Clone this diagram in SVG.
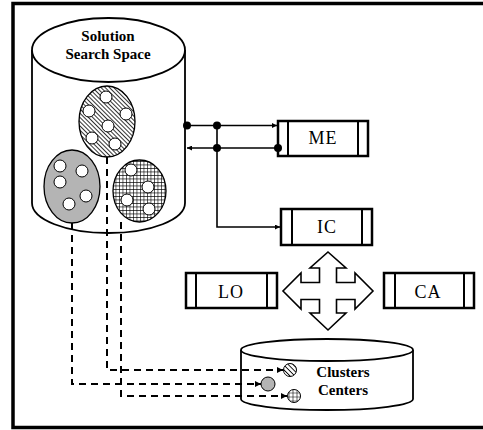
<svg xmlns="http://www.w3.org/2000/svg" width="483" height="430" viewBox="0 0 483 430">
<defs>
<style>
.frame{fill:none;stroke:#000;stroke-width:3.5}
.cyl{fill:#fff;stroke:#000;stroke-width:1.8}
.lbl{font-family:'Liberation Serif','DejaVu Serif',serif;font-weight:bold;font-size:15px;text-anchor:middle;fill:#000}
.blbl{font-family:'Liberation Serif','DejaVu Serif',serif;font-size:18px;text-anchor:middle;fill:#000;letter-spacing:1px}
.box{fill:#fff;stroke:#000;stroke-width:2.5}
.inner{stroke:#000;stroke-width:2}
.hole{fill:#fff;stroke:#000;stroke-width:1}
.conn{fill:none;stroke:#000;stroke-width:1.6}
.dash{fill:none;stroke:#000;stroke-width:2;stroke-dasharray:7,5}
.dot{fill:#000}
</style>
<pattern id="hatch" patternUnits="userSpaceOnUse" width="3" height="3" patternTransform="rotate(-45)">
<rect width="3" height="3" fill="#fff"/>
<line x1="0" y1="0" x2="0" y2="3" stroke="#000" stroke-width="1.6"/>
</pattern>
<pattern id="hatch2" patternUnits="userSpaceOnUse" width="3.4" height="3.4" patternTransform="rotate(-45)">
<rect width="3.4" height="3.4" fill="#fff"/>
<line x1="0" y1="0" x2="0" y2="3.4" stroke="#000" stroke-width="1.8"/>
</pattern>
<pattern id="grid" patternUnits="userSpaceOnUse" width="3.5" height="3.5">
<rect width="3.5" height="3.5" fill="#fff"/>
<path d="M0 0H3.5M0 0V3.5" stroke="#000" stroke-width="1.2"/>
</pattern>
<pattern id="grid2" patternUnits="userSpaceOnUse" width="4" height="4" x="0.5" y="0.5">
<rect width="4" height="4" fill="#fff"/>
<path d="M0 0H4M0 0V4" stroke="#000" stroke-width="1.2"/>
</pattern>
<marker id="arr" viewBox="0 0 10 10" refX="10" refY="5" markerWidth="5" markerHeight="5" markerUnits="userSpaceOnUse" orient="auto">
<path d="M0 0L10 5L0 10z" fill="#000"/>
</marker>
<marker id="arr2" viewBox="0 0 10 10" refX="10" refY="5" markerWidth="6" markerHeight="6" markerUnits="userSpaceOnUse" orient="auto">
<path d="M0 0L10 5L0 10z" fill="#000"/>
</marker>
</defs>
<rect width="483" height="430" fill="#fff"/>
<rect class="frame" x="13" y="3.5" width="490" height="424"/>

<g id="solution-space">
<path class="cyl" d="M32 50 V203 A76.5 30 0 0 0 185 203 V50"/>
<ellipse class="cyl" cx="108.5" cy="50" rx="76.5" ry="32"/>
<text class="lbl" x="108" y="41" font-family="Liberation Serif, DejaVu Serif, serif">Solution</text>
<text class="lbl" x="108" y="59" font-family="Liberation Serif, DejaVu Serif, serif">Search Space</text>
<g id="cluster-hatched">
<ellipse cx="107" cy="121.5" rx="28" ry="35.5" fill="url(#hatch)" stroke="#000" stroke-width="1.3"/>
<circle class="hole" cx="106" cy="97" r="6"/>
<circle class="hole" cx="89" cy="111" r="6"/>
<circle class="hole" cx="126" cy="114" r="6"/>
<circle class="hole" cx="108" cy="126" r="6"/>
<circle class="hole" cx="92" cy="138" r="6"/>
<circle class="hole" cx="115" cy="144" r="6"/>
</g>
<g id="cluster-gray">
<ellipse cx="72" cy="186.5" rx="28" ry="36.5" fill="#b4b4b4" stroke="#000" stroke-width="1.3"/>
<circle class="hole" cx="60" cy="166" r="6"/>
<circle class="hole" cx="82" cy="171" r="6"/>
<circle class="hole" cx="60" cy="182" r="6"/>
<circle class="hole" cx="86" cy="196" r="6"/>
<circle class="hole" cx="69" cy="204" r="6"/>
</g>
<g id="cluster-grid">
<ellipse cx="139.5" cy="191" rx="26.5" ry="31" fill="url(#grid)" stroke="#000" stroke-width="1.3"/>
<circle class="hole" cx="131" cy="170" r="6"/>
<circle class="hole" cx="148" cy="187" r="6"/>
<circle class="hole" cx="127" cy="200" r="6"/>
<circle class="hole" cx="149" cy="209" r="6"/>
</g>
</g>

<g id="clusters-centers">
<path class="cyl" d="M241 350 V399 A86 11 0 0 0 413 399 V350"/>
<ellipse class="cyl" cx="327" cy="350" rx="86" ry="11"/>
<text class="lbl" x="343" y="377" font-family="Liberation Serif, DejaVu Serif, serif">Clusters</text>
<text class="lbl" x="343" y="395" font-family="Liberation Serif, DejaVu Serif, serif">Centers</text>
<circle cx="290" cy="370" r="6.5" fill="url(#hatch2)" stroke="#000" stroke-width="1"/>
<circle cx="268" cy="384" r="7" fill="#b4b4b4" stroke="#000" stroke-width="1"/>
<circle cx="294" cy="396" r="6.5" fill="url(#grid2)" stroke="#000" stroke-width="1"/>
</g>

<g id="ME">
<rect class="box" x="278" y="121" width="90" height="35"/>
<line class="inner" x1="288" y1="121" x2="288" y2="156"/>
<line class="inner" x1="358" y1="121" x2="358" y2="156"/>
<text class="blbl" x="323" y="144" font-family="Liberation Serif, DejaVu Serif, serif">ME</text>
</g>
<g id="IC">
<rect class="box" x="281" y="209" width="91" height="36"/>
<line class="inner" x1="292" y1="209" x2="292" y2="245"/>
<line class="inner" x1="362" y1="209" x2="362" y2="245"/>
<text class="blbl" x="327" y="233" font-family="Liberation Serif, DejaVu Serif, serif">IC</text>
</g>
<g id="LO">
<rect class="box" x="186" y="273" width="91" height="35"/>
<line class="inner" x1="196" y1="273" x2="196" y2="308"/>
<line class="inner" x1="267" y1="273" x2="267" y2="308"/>
<text class="blbl" x="231" y="298" font-family="Liberation Serif, DejaVu Serif, serif">LO</text>
</g>
<g id="CA">
<rect class="box" x="384" y="273" width="90" height="35"/>
<line class="inner" x1="395" y1="273" x2="395" y2="308"/>
<line class="inner" x1="464" y1="273" x2="464" y2="308"/>
<text class="blbl" x="428" y="298" font-family="Liberation Serif, DejaVu Serif, serif">CA</text>
</g>
<g id="four-way-arrow">
<polygon fill="#fff" stroke="#000" stroke-width="1.6" stroke-linejoin="miter" points="328,252 346,268 336.5,268 336.5,282.5 355,282.5 355,273 373,291 355,309 355,299.5 336.5,299.5 336.5,313 346,313 328,330 310,313 319.5,313 319.5,299.5 301,299.5 301,309 283,291 301,273 301,282.5 319.5,282.5 319.5,268 310,268"/>
</g>

<g id="connectors">
<path class="conn" d="M186 125.5 H277" marker-end="url(#arr)"/>
<path class="conn" d="M278 148 H187" marker-end="url(#arr)"/>
<path class="conn" d="M217 125.5 V227 H280" marker-end="url(#arr)"/>
<circle class="dot" cx="187" cy="125.5" r="4"/>
<circle class="dot" cx="217" cy="125.5" r="4"/>
<circle class="dot" cx="217" cy="148" r="4"/>
<circle class="dot" cx="278" cy="148" r="4"/>
<path class="dash" d="M107 157 V370 H283" marker-end="url(#arr2)"/>
<path class="dash" d="M72 223 V384 H261" marker-end="url(#arr2)"/>
<path class="dash" d="M121 222 V396 H287" marker-end="url(#arr2)"/>
</g>
</svg>
